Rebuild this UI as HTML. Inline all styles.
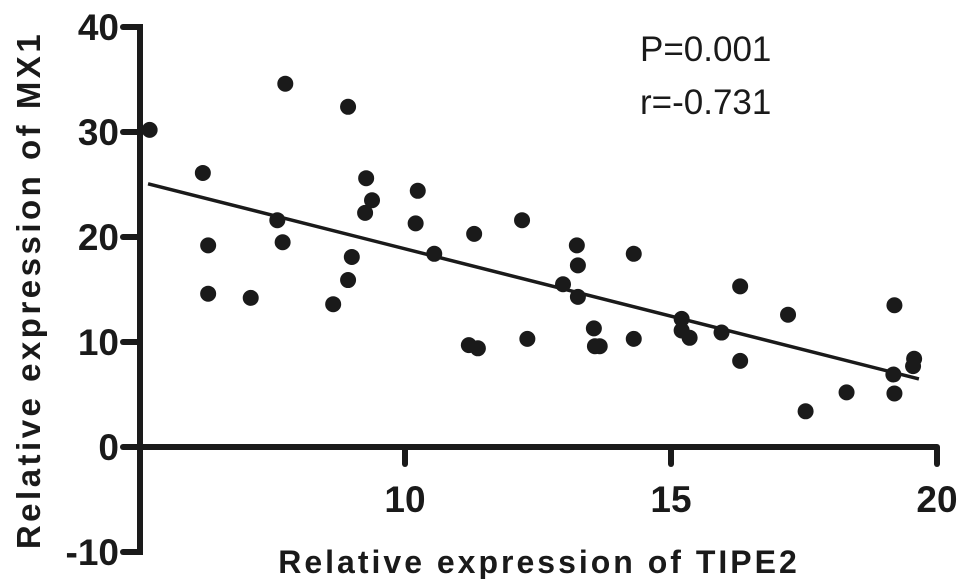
<!DOCTYPE html>
<html><head><meta charset="utf-8"><style>
html,body{margin:0;padding:0;background:#fff;}
svg{display:block;font-family:"Liberation Sans",Arial,sans-serif;}
</style></head><body>
<svg id="chart" width="969" height="579">
<g id="axes"></g><g id="marks"></g>
<text x="640" y="61" font-size="35" fill="#1a1a1a">P=0.001</text>
<text x="640" y="114" font-size="35" fill="#1a1a1a">r=-0.731</text>
<text x="539" y="573" font-size="32" font-weight="bold" text-anchor="middle" fill="#1a1a1a" letter-spacing="3">Relative expression of TIPE2</text>
<text transform="translate(40,290) rotate(-90)" font-size="33" font-weight="bold" text-anchor="middle" fill="#1a1a1a" letter-spacing="3.5">Relative expression of MX1</text>
</svg>
<script>
const xValues=[5.2,6.2,6.3,6.3,7.1,7.6,7.75,7.7,8.65,8.93,8.93,9.0,9.27,9.25,9.38,10.24,10.2,10.55,11.3,11.2,11.37,12.2,12.3,12.97,13.23,13.25,13.25,13.55,13.57,13.66,14.3,14.3,15.2,15.2,15.35,15.95,16.3,16.3,17.2,17.53,18.3,19.2,19.18,19.2,19.55,19.57];
const yValues=[30.2,26.1,19.2,14.6,14.2,21.6,34.6,19.5,13.6,32.4,15.9,18.1,25.6,22.3,23.5,24.4,21.3,18.4,20.3,9.7,9.4,21.6,10.3,15.5,19.2,17.3,14.3,11.3,9.6,9.6,18.4,10.3,12.2,11.1,10.4,10.9,15.3,8.2,12.6,3.4,5.2,13.5,6.9,5.1,7.7,8.4];
const xTicks=[10,15,20];
const yTicks=[-10,0,10,20,30,40];
const lineXRange=[5.17,19.66];
const NS="http://www.w3.org/2000/svg";
const xs=v=>405+(v-10)*53.2;
const ys=v=>447-v*10.5;
const axes=document.getElementById('axes'),marks=document.getElementById('marks');
function mk(tag,attrs,parent){const e=document.createElementNS(NS,tag);for(const k in attrs)e.setAttribute(k,attrs[k]);parent.appendChild(e);return e;}
const C="#1a1a1a";
let e=mk('line',{x1:140,y1:ys(40),x2:140,y2:ys(-10),stroke:C,'stroke-width':6,'stroke-linecap':'square'},axes);


e=mk('line',{x1:140,y1:ys(0),x2:xs(20),y2:ys(0),stroke:C,'stroke-width':6},axes);


yTicks.forEach(t=>{
  const y=ys(t);
  let l=mk('line',{x1:123,y1:y,x2:140,y2:y,stroke:C,'stroke-width':6,'stroke-linecap':'round'},axes);
  
  
  let tx=mk('text',{x:119,y:y+13,'font-size':37,'font-weight':'bold','text-anchor':'end',fill:C},axes);
  tx.textContent=t;
  
  
});
xTicks.forEach(t=>{
  const x=xs(t);
  let l=mk('line',{x1:x,y1:ys(0),x2:x,y2:ys(0)+17,stroke:C,'stroke-width':6,'stroke-linecap':'round'},axes);
  
  
  let tx=mk('text',{x:x,y:512,'font-size':37,'font-weight':'bold','text-anchor':'middle',fill:C},axes);
  tx.textContent=t;
  
  
});
const n=xValues.length;
const mx=xValues.reduce((a,b)=>a+b,0)/n,my=yValues.reduce((a,b)=>a+b,0)/n;
let sxy=0,sxx=0;for(let i=0;i<n;i++){sxy+=(xValues[i]-mx)*(yValues[i]-my);sxx+=(xValues[i]-mx)**2;}
const slope=sxy/sxx,icpt=my-slope*mx;
e=mk('line',{x1:xs(lineXRange[0]),y1:ys(icpt+slope*lineXRange[0]),x2:xs(lineXRange[1]),y2:ys(icpt+slope*lineXRange[1]),stroke:C,'stroke-width':3.5},marks);


for(let i=0;i<n;i++){
  const c=mk('circle',{cx:xs(xValues[i]),cy:ys(yValues[i]),r:8,fill:C},marks);
  
  
}
</script>
</body></html>
